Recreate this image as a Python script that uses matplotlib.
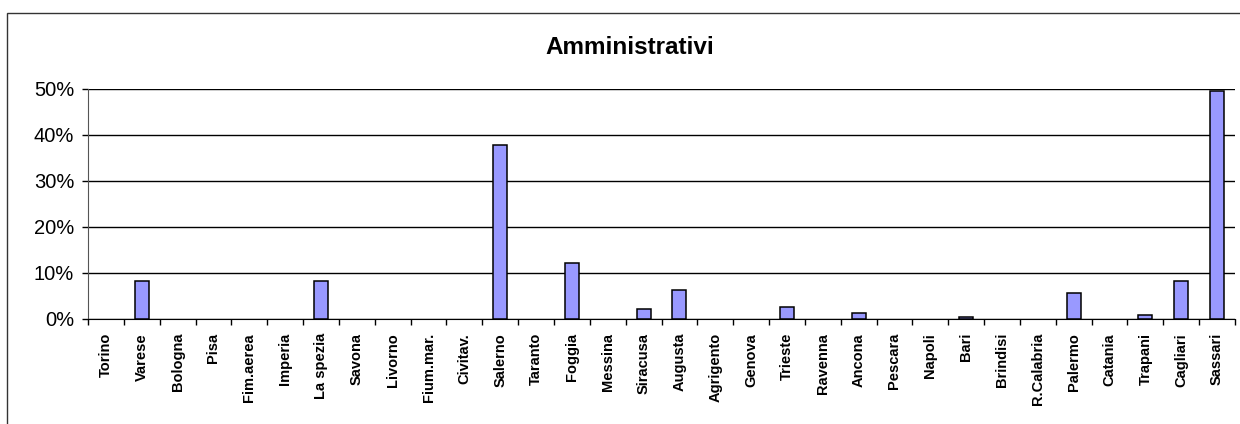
import matplotlib
matplotlib.use("Agg")
import matplotlib.pyplot as plt
from matplotlib.patches import Rectangle
from matplotlib.ticker import FixedLocator, PercentFormatter
import numpy as np

# ---------------------------------------------------------------------------
# Data
# ---------------------------------------------------------------------------

title = "Amministrativi"

porti = [
    "Torino", "Varese", "Bologna", "Pisa", "Fim.aerea", "Imperia", "La spezia",
    "Savona", "Livorno", "Fium.mar.", "Civitav.", "Salerno", "Taranto", "Foggia",
    "Messina", "Siracusa", "Augusta", "Agrigento", "Genova", "Trieste", "Ravenna",
    "Ancona", "Pescara", "Napoli", "Bari", "Brindisi", "R.Calabria", "Palermo",
    "Catania", "Trapani", "Cagliari", "Sassari",
]

quote = [
    0.0, 8.3, 0.0, 0.0, 0.0, 0.0, 8.3,
    0.0, 0.0, 0.0, 0.0, 37.8, 0.0, 12.2,
    0.0, 2.2, 6.2, 0.0, 0.0, 2.6, 0.0,
    1.3, 0.0, 0.0, 0.4, 0.0, 0.0, 5.6,
    0.0, 0.8, 8.3, 49.6,
]

y_ticks = [0, 10, 20, 30, 40, 50]

# ---------------------------------------------------------------------------
# Plot
# ---------------------------------------------------------------------------

plt.rcParams["font.family"] = ["Liberation Sans", "DejaVu Sans"]

fig = plt.figure(figsize=(12.4, 4.24), dpi=100)
W, H = 1240, 424

# outer chart frame (runs off the right and bottom edges)
fig.patches.append(Rectangle((7 / W, -0.05), 1.1, 1 - 13 / H + 0.05,
                             transform=fig.transFigure, fill=False,
                             edgecolor="#333333", linewidth=1.0))

ax = fig.add_axes([88 / W, 1 - 319 / H, (1235 - 88) / W, (319 - 89) / H])

x = np.arange(len(porti))
# empty categories get no outline, like the Excel original
edges = ["black" if v > 0 else "none" for v in quote]
ax.bar(x, quote, width=0.39, color="#9999FF", edgecolor=edges,
       linewidth=1.1, zorder=3)

ax.set_xlim(-0.5, len(porti) - 0.5)
ax.set_ylim(0, 50)

ax.yaxis.set_major_locator(FixedLocator(y_ticks))
ax.yaxis.set_major_formatter(PercentFormatter(decimals=0))
ax.grid(axis="y", color="black", linewidth=1.0, zorder=0)

# x ticks sit on the category boundaries, labels in the middle
ax.set_xticks(np.arange(len(porti) + 1) - 0.5)
ax.set_xticklabels([])
ax.set_xticks(x, minor=True)
ax.set_xticklabels(porti, minor=True, rotation=90, fontsize=10.5,
                   fontweight="bold")
ax.tick_params(axis="x", which="minor", length=0, pad=10)
ax.tick_params(axis="x", which="major", direction="out", length=4,
               width=1, color="black")
ax.tick_params(axis="y", direction="out", length=4, width=1,
               labelsize=14.5, pad=6)

for side in ("top", "right"):
    ax.spines[side].set_visible(False)
ax.spines["left"].set_color("#555555")
ax.spines["bottom"].set_color("black")

fig.text(630 / W, 1 - 47 / H, title, ha="center", va="center",
         fontsize=17.5, fontweight="bold")

fig.savefig("out.png", dpi=100)
